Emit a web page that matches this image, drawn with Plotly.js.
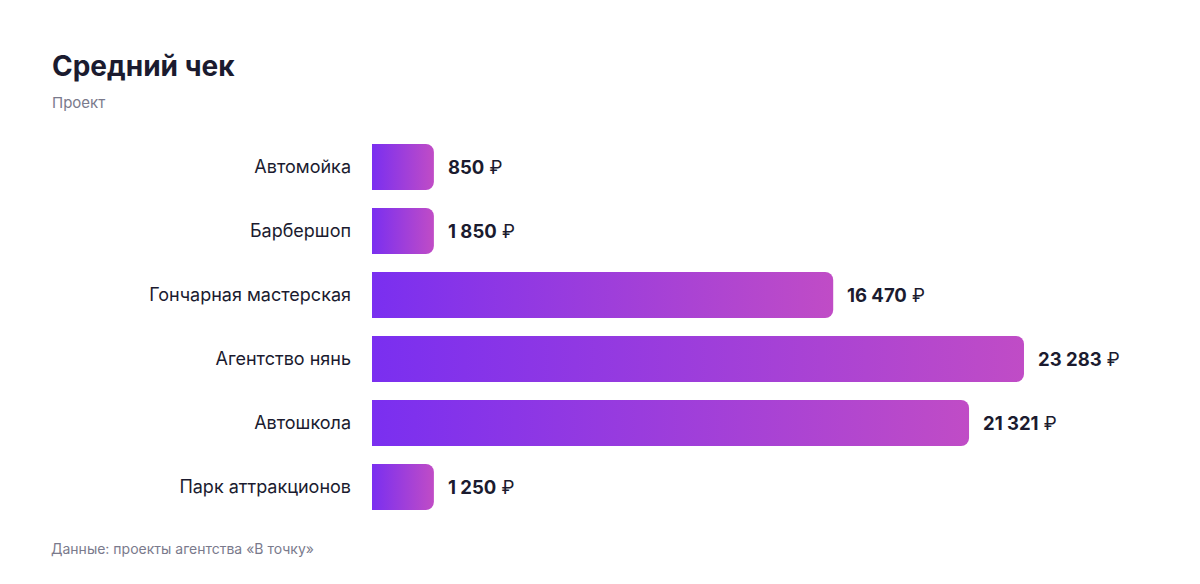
<!DOCTYPE html>
<html><head><meta charset="utf-8">
<script src="https://cdn.plot.ly/plotly-3.0.1.min.js"></script>
<style>html,body{margin:0;padding:0;background:#fff}#chart{width:1200px;height:584px}</style>
</head><body><div id="chart"></div>
<script>
const categories = ["Автомойка","Барбершоп","Гончарная мастерская","Агентство нянь","Автошкола","Парк аттракционов"];
const values = [850, 1850, 16470, 23283, 21321, 1250];
const valueLabels = ["850","1 850","16 470","23 283","21 321","1 250"];
const currency = "₽";
const titleText = "Средний чек";
const subtitleText = "Проект";
const sourceText = "Данные: проекты агентства «В точку»";

const W = 1200, H = 584;
const mL = 372, mR = 40, mT = 135, mB = 65;
const pw = W - mL - mR, ph = H - mT - mB;
const xMax = 28140;
const minBar = 2210; // minimum visual bar length
const barLen = values.map(v => Math.max(v, minBar));
const px = (x) => (x - mL) / pw;
const py = (y) => 1 - (y - mT) / ph;
const FONT = "Inter, 'Noto Sans', sans-serif";
const DARK = "#1b1b2f";

const ann = categories.map((c, i) => ({
  x: barLen[i], y: c, xref: 'x', yref: 'y', xanchor: 'left', yanchor: 'middle',
  xshift: 12, showarrow: false,
  text: '<b>' + valueLabels[i] + '</b> <span style="font-weight:normal">' + currency + '</span>',
  font: {family: FONT, size: 18.5, color: DARK}
}));
ann.push({x: px(50), y: py(102), xref: 'paper', yref: 'paper', xanchor: 'left', yanchor: 'middle',
  showarrow: false, text: subtitleText, font: {family: FONT, size: 15, color: '#7a7a8c'}});
ann.push({x: px(49), y: py(548), xref: 'paper', yref: 'paper', xanchor: 'left', yanchor: 'middle',
  showarrow: false, text: sourceText, font: {family: FONT, size: 14, color: '#7a7a8c'}});

const trace = {
  type: 'bar', orientation: 'h', y: categories, x: barLen,
  marker: {color: '#9b3de0', cornerradius: 8, line: {width: 0}},
  hoverinfo: 'none', width: 0.72
};

const layout = {
  width: W, height: H,
  margin: {l: mL, r: mR, t: mT, b: mB},
  paper_bgcolor: '#fff', plot_bgcolor: '#fff',
  title: {text: '<b>' + titleText + '</b>', x: 52 / W, xanchor: 'left', xref: 'container',
    y: 1 - 66 / H, yanchor: 'middle', yref: 'container',
    font: {family: FONT, size: 28, color: DARK}},
  xaxis: {range: [0, xMax], visible: false, fixedrange: true},
  yaxis: {autorange: 'reversed', showgrid: false, zeroline: false, showline: false,
    ticks: '', ticklabelstandoff: 20, tickfont: {family: FONT, size: 18, color: DARK}, fixedrange: true},
  showlegend: false,
  annotations: ann
};

Plotly.newPlot('chart', [trace], layout, {displayModeBar: false, staticPlot: true}).then(gd => {
  const svg = gd.querySelector('svg.main-svg');
  const NS = 'http://www.w3.org/2000/svg';
  let defs = svg.querySelector('defs');
  if (!defs) { defs = document.createElementNS(NS, 'defs'); svg.insertBefore(defs, svg.firstChild); }
  const lg = document.createElementNS(NS, 'linearGradient');
  lg.setAttribute('id', 'barGrad');
  lg.setAttribute('x1', '0'); lg.setAttribute('y1', '0'); lg.setAttribute('x2', '1'); lg.setAttribute('y2', '0');
  [['0%', '#7a2ff0'], ['100%', '#c04cc6']].forEach(([o, c]) => {
    const s = document.createElementNS(NS, 'stop');
    s.setAttribute('offset', o); s.setAttribute('stop-color', c); lg.appendChild(s);
  });
  defs.appendChild(lg);
  gd.querySelectorAll('.barlayer .point path').forEach(p => { p.style.fill = 'url(#barGrad)'; });
});
</script></body></html>
